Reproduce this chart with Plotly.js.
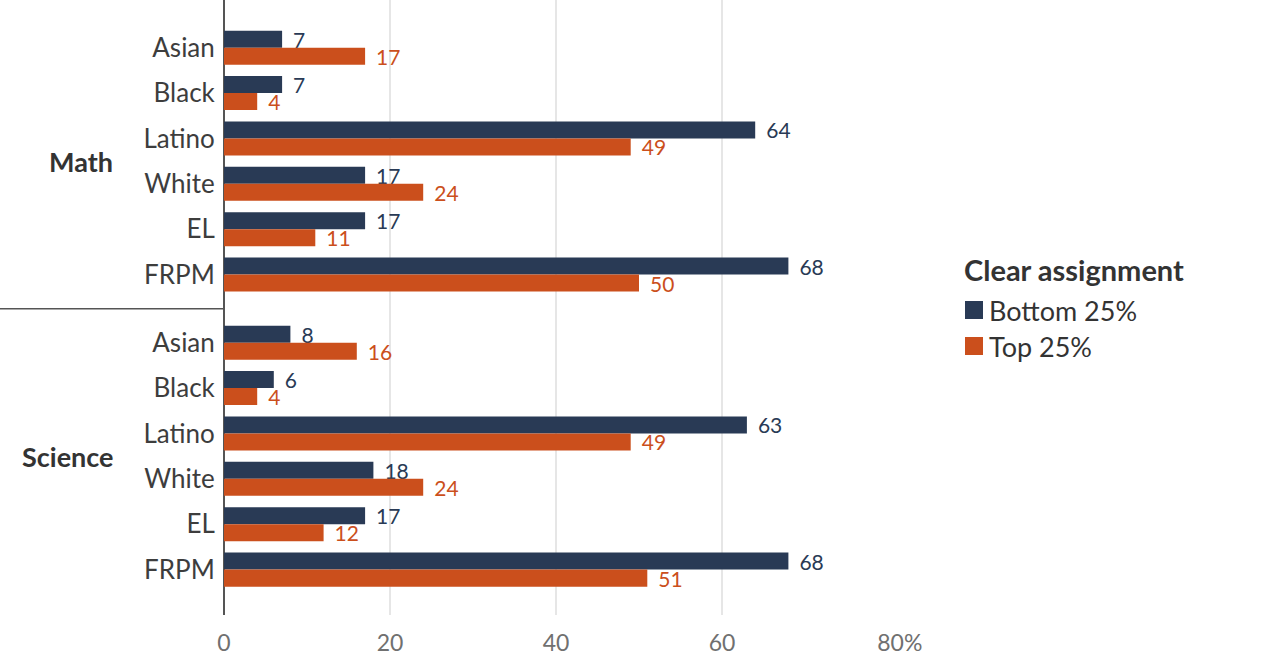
<!DOCTYPE html>
<html>
<head>
<meta charset="utf-8">
<script src="https://cdn.plot.ly/plotly-3.0.1.min.js"></script>
<style>
  html, body { margin: 0; padding: 0; background: #fff; }
  #chart { width: 1280px; height: 660px; }
</style>
</head>
<body>
<div id="chart"></div>
<script>
// Student groups shown under each subject
const groups = ['Asian', 'Black', 'Latino', 'White', 'EL', 'FRPM'];
const subjects = ['Math', 'Science'];

// Share of teachers (%) with a clear assignment, by school quartile
const mathBottom = [7, 7, 64, 17, 17, 68];
const mathTop = [17, 4, 49, 24, 11, 50];
const scienceBottom = [8, 6, 63, 18, 17, 68];
const scienceTop = [16, 4, 49, 24, 12, 51];

const seriesNames = ['Bottom 25%', 'Top 25%'];
const legendTitle = 'Clear assignment';
const xTickVals = [0, 20, 40, 60, 80];
// the last label keeps its number centred on the gridline, with the % trailing
const xTickText = ['0', '20', '40', '60', '\u00a0\u00a0\u00a0\u00a080%'];

const NAVY = '#293a55';
const ORANGE = '#cb4f1c';
const SERIES_COLORS = [NAVY, ORANGE];
const FONT = 'Lato, "Open Sans", sans-serif';

// Row positions: each subject block of six rows, with a half-row gap between blocks
const blockGap = 1.5;
const rowPos = [];
const rowText = [];
subjects.forEach((s, si) => {
  groups.forEach((g, gi) => {
    rowPos.push(si * (groups.length - 1 + blockGap) + gi);
    rowText.push(g);
  });
});

const bottomVals = mathBottom.concat(scienceBottom);
const topVals = mathTop.concat(scienceTop);

function barTrace(name, vals, color) {
  return {
    type: 'bar',
    orientation: 'h',
    name: name,
    x: vals,
    y: rowPos,
    marker: { color: color },
    text: vals.map(String),
    texttemplate: '\u00a0\u2009%{text}',
    textposition: 'outside',
    constraintext: 'none',
    textfont: { family: FONT, size: 21, color: color },
    cliponaxis: false,
    showlegend: false,
    hoverinfo: 'skip'
  };
}

const data = [
  barTrace(seriesNames[0], bottomVals, NAVY),
  barTrace(seriesNames[1], topVals, ORANGE)
];

const mathMid = (rowPos[0] + rowPos[groups.length - 1]) / 2;
const sciMid = (rowPos[groups.length] + rowPos[rowPos.length - 1]) / 2;
const divider = (rowPos[groups.length - 1] + rowPos[groups.length]) / 2;

// Plot area geometry in pixels
const W = 1280, H = 660;
const plotLeft = 224, plotWidth = 664, plotTop = 0, plotHeight = 615;
const px = x => (x - plotLeft) / plotWidth;          // pixel x -> paper x
const py = y => 1 - (y - plotTop) / plotHeight;       // pixel y -> paper y

// Legend block drawn beside the plot
const legX = 965, legTitleY = 270, legFirstY = 310, legStep = 36, sw = 18;

const shapes = [{
  type: 'line',
  xref: 'paper', yref: 'y',
  x0: px(0), x1: 0,
  y0: divider, y1: divider,
  line: { color: '#555', width: 1.5 }
}];
seriesNames.forEach((n, i) => {
  const cy = legFirstY + i * legStep;
  shapes.push({
    type: 'rect', xref: 'paper', yref: 'paper',
    x0: px(legX), x1: px(legX + sw),
    y0: py(cy + sw / 2), y1: py(cy - sw / 2),
    fillcolor: SERIES_COLORS[i], line: { width: 0 }
  });
});

const annotations = [
  { text: subjects[0], y: mathMid },
  { text: subjects[1], y: sciMid }
].map(a => ({
  text: a.text,
  xref: 'paper', yref: 'y',
  x: px(115), y: a.y,
  xanchor: 'right', yanchor: 'middle',
  showarrow: false,
  font: { family: FONT, size: 27, color: '#333', weight: 'bold' }
}));

annotations.push({
  text: legendTitle,
  xref: 'paper', yref: 'paper',
  x: px(legX - 3), y: py(legTitleY),
  xanchor: 'left', yanchor: 'middle',
  showarrow: false,
  font: { family: FONT, size: 29, color: '#333', weight: 'bold' }
});
seriesNames.forEach((n, i) => {
  annotations.push({
    text: n,
    xref: 'paper', yref: 'paper',
    x: px(legX + sw + 4), y: py(legFirstY + i * legStep),
    xanchor: 'left', yanchor: 'middle',
    showarrow: false,
    font: { family: FONT, size: 27, color: '#333' }
  });
});

const layout = {
  width: W,
  height: H,
  margin: { l: plotLeft, r: W - plotLeft - plotWidth, t: plotTop, b: H - plotTop - plotHeight },
  paper_bgcolor: '#fff',
  plot_bgcolor: '#fff',
  barmode: 'group',
  bargap: 0.25,
  bargroupgap: 0,
  showlegend: false,
  font: { family: FONT, color: '#333' },
  xaxis: {
    range: [0, 80],
    tickvals: xTickVals,
    ticktext: xTickText,
    showgrid: true,
    gridcolor: '#e6e6e6',
    gridwidth: 1.5,
    zeroline: true,
    zerolinecolor: '#555',
    zerolinewidth: 1.5,
    showline: false,
    ticks: 'outside',
    ticklen: 7,
    tickcolor: 'rgba(0,0,0,0)',
    tickfont: { family: FONT, size: 23, color: '#707070' },
    fixedrange: true
  },
  yaxis: {
    range: [rowPos[rowPos.length - 1] + 1, rowPos[0] - 1.05],
    tickvals: rowPos,
    ticktext: rowText,
    showgrid: false,
    zeroline: false,
    showline: false,
    ticks: 'outside',
    ticklen: 3,
    tickcolor: 'rgba(0,0,0,0)',
    tickfont: { family: FONT, size: 26, color: '#3d3d3d' },
    fixedrange: true
  },
  shapes: shapes,
  annotations: annotations
};

Plotly.newPlot('chart', data, layout, { displayModeBar: false, staticPlot: true });
</script>
</body>
</html>
